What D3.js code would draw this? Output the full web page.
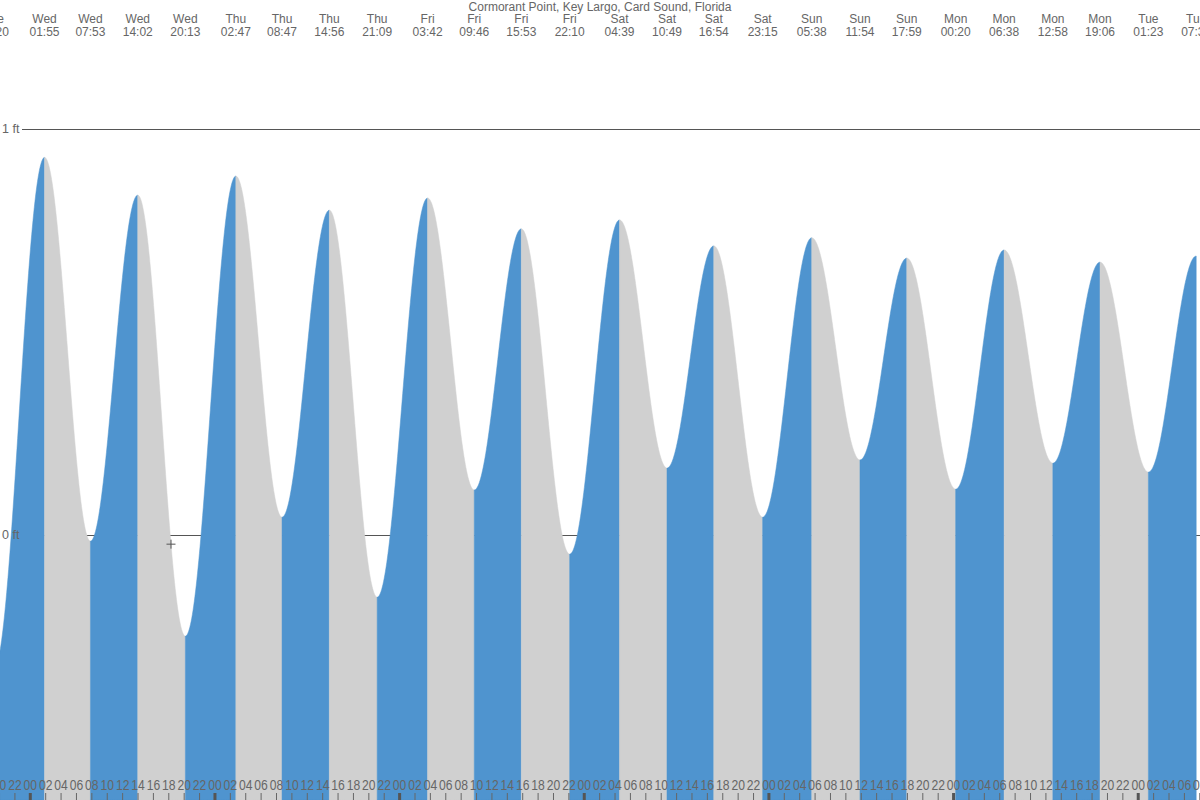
<!DOCTYPE html>
<html>
<head>
<meta charset="utf-8">
<script src="https://cdn.jsdelivr.net/npm/d3@7"></script>
<style>
  html, body { margin: 0; padding: 0; background: #fff; }
  svg { display: block; }
  text { font-family: "Liberation Sans", Arial, sans-serif; }
</style>
</head>
<body>
<svg id="chart" width="1200" height="800"></svg>
<script>
// ---- data ----
const title = "Cormorant Point, Key Largo, Card Sound, Florida";
const eventDays = ["Tue","Wed","Wed","Wed","Wed","Thu","Thu","Thu","Thu","Fri","Fri","Fri","Fri",
  "Sat","Sat","Sat","Sat","Sun","Sun","Sun","Mon","Mon","Mon","Mon","Tue","Tue"];
const eventTimes = ["19:20","01:55","07:53","14:02","20:13","02:47","08:47","14:56","21:09","03:42","09:46","15:53","22:10",
  "04:39","10:49","16:54","23:15","05:38","11:54","17:59","00:20","06:38","12:58","19:06","01:23","07:36"];
const eventHeights = [-0.33,0.93,-0.015,0.837,-0.249,0.884,0.044,0.80,-0.153,0.83,0.111,0.754,-0.047,
  0.776,0.165,0.712,0.044,0.732,0.185,0.682,0.113,0.702,0.177,0.672,0.155,0.687];
const yTickValues = [0, 1];
const yTickLabels = ["0 ft", "1 ft"];
const hourTickStep = 2;
const currentTime = { day: "Wed", time: "18:21" };

// ---- layout ----
const W = 1200, H = 800;
const blue = "#4f94cf", grey = "#d0d0d0", txt = "#666";

// hours since Wed 00:00
const dayOrder = ["Wed","Thu","Fri","Sat","Sun","Mon","Tue"];
const hoursOf = (t) => { const [h, m] = t.split(":").map(Number); return h + m / 60; };
let dayIdx = -1, prevDay = eventDays[0];
const events = eventDays.map((d, i) => {
  if (i > 0 && d !== prevDay) { dayIdx += 1; prevDay = d; }
  return { day: d, time: eventTimes[i], h: dayIdx * 24 + hoursOf(eventTimes[i]), v: eventHeights[i] };
});

const pxPerHour = 7.694, x0 = 29.8;
const x = d3.scaleLinear().domain([0, 1]).range([x0, x0 + pxPerHour]);
const y = d3.scaleLinear().domain([0, 1]).range([535, 129]);

const svg = d3.select("#chart");

// tide curve by cosine interpolation between extremes
function tideAt(h) {
  for (let i = 0; i < events.length - 1; i++) {
    const a = events[i], b = events[i + 1];
    if (h >= a.h && h <= b.h) {
      const f = (h - a.h) / (b.h - a.h);
      return a.v + (b.v - a.v) * (1 - Math.cos(Math.PI * f)) / 2;
    }
  }
  return null;
}

// reference lines (under fills)
const lineG = svg.append("g");
yTickValues.forEach((v) => {
  lineG.append("line").attr("x1", 22).attr("x2", W).attr("y1", y(v) + 0.5).attr("y2", y(v) + 0.5)
    .attr("stroke", "#555").attr("stroke-width", 1);
});

// filled segments
const area = d3.area().x(d => x(d.h)).y0(H).y1(d => y(d.v)).curve(d3.curveLinear);
for (let i = 0; i < events.length - 1; i++) {
  const a = events[i], b = events[i + 1];
  const n = Math.max(2, Math.ceil((b.h - a.h) * 12));
  const pts = d3.range(n + 1).map(k => {
    const h = a.h + (b.h - a.h) * k / n;
    return { h, v: tideAt(h) };
  });
  svg.append("path").datum(pts).attr("d", area)
    .attr("fill", b.v > a.v ? blue : grey).attr("stroke", b.v > a.v ? blue : grey).attr("stroke-width", 0.5);
}

// y labels (on top of fills)
yTickValues.forEach((v, i) => {
  svg.append("text").attr("x", 2).attr("y", y(v) + 4).attr("font-size", 12.5).attr("fill", txt)
    .text(yTickLabels[i]);
});

// top labels
svg.append("text").attr("x", W / 2).attr("y", 11).attr("text-anchor", "middle")
  .attr("font-size", 12).attr("fill", txt).text(title);
const topG = svg.append("g");
events.forEach(e => {
  topG.append("text").attr("x", x(e.h)).attr("y", 23).attr("text-anchor", "middle")
    .attr("font-size", 12).attr("fill", txt).text(e.day);
  topG.append("text").attr("x", x(e.h)).attr("y", 36).attr("text-anchor", "middle")
    .attr("font-size", 12).attr("fill", txt).text(e.time);
});

// bottom hour axis
const hMin = Math.floor(x.invert(0) / hourTickStep) * hourTickStep;
const hMax = Math.ceil(x.invert(W) / hourTickStep) * hourTickStep;
const hourTicks = d3.range(hMin, hMax + 1, hourTickStep);
const axis = d3.axisTop(x).tickValues(hourTicks).tickSize(7).tickPadding(3)
  .tickFormat(h => String(((h % 24) + 24) % 24).padStart(2, "0"));
const axG = svg.append("g").attr("transform", `translate(0,${H})`).call(axis);
axG.select(".domain").remove();
axG.selectAll(".tick line").attr("stroke", "#666").attr("stroke-width", 1);
axG.selectAll(".tick").filter(h => ((h % 24) + 24) % 24 === 0).select("line")
  .attr("stroke-width", 3).attr("stroke", "#555");
axG.selectAll(".tick text").attr("fill", txt).attr("font-size", 14)
  .attr("font-family", "'Liberation Sans', Arial, sans-serif")
  .attr("textLength", 13.5).attr("lengthAdjust", "spacingAndGlyphs");

// current time marker
const ch = dayOrder.indexOf(currentTime.day) * 24 + hoursOf(currentTime.time);
const cx = x(ch), cy = y(tideAt(ch));
svg.append("path").attr("d", `M${cx - 4.5},${cy}H${cx + 4.5}M${cx},${cy - 4.5}V${cy + 4.5}`)
  .attr("stroke", "#555").attr("stroke-width", 1).attr("fill", "none");
</script>
</body>
</html>
